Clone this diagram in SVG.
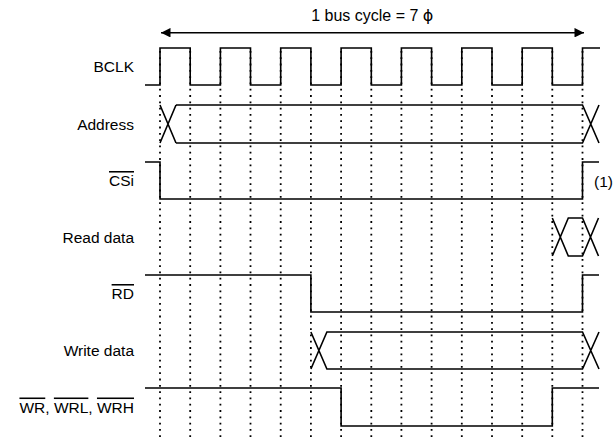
<svg xmlns="http://www.w3.org/2000/svg" width="613" height="438" viewBox="0 0 613 438">
<style>
text{font-family:"Liberation Sans",Arial,sans-serif;font-size:15.5px;fill:#000}
.lbl{text-anchor:end}
.sig{fill:none;stroke:#000;stroke-width:1.6;stroke-linejoin:miter}
.grid{stroke:#000;stroke-width:1.8;stroke-dasharray:1.8 4.5;fill:none}
.ov{text-decoration:overline}
</style>
<defs>
<marker id="ah" viewBox="0 0 10 10" refX="10" refY="5" markerWidth="10" markerHeight="9.5" markerUnits="userSpaceOnUse" orient="auto-start-reverse">
<path d="M0,0 L10,5 L0,10 z" fill="#000"/>
</marker>
</defs>
<rect width="613" height="438" fill="#fff"/>
<g id="grid">
<path class="grid" d="M160,51V438M190.2,51V438M220.4,51V438M250.5,51V438M280.7,51V438M310.9,51V438M341.1,51V438M371.3,51V438M401.4,51V438M431.6,51V438M461.8,51V438M492,51V438M522.2,51V438M552.3,51V438M582.5,51V438"/>
</g>
<g id="connectors">
<line x1="161" y1="32.7" x2="584" y2="32.7" stroke="#000" stroke-width="1.6" marker-start="url(#ah)" marker-end="url(#ah)"/>
<text x="372.3" y="20.7" text-anchor="middle" style="font-size:16px">1 bus cycle = 7 <tspan style="font-family:'DejaVu Sans',sans-serif">ϕ</tspan></text>
</g>
<g id="bclk">
<text class="lbl" x="134" y="72">BCLK</text>
<path class="sig" d="M145,85H160V48H190.2V85H220.4V48H250.5V85H280.7V48H310.9V85H341.1V48H371.3V85H401.4V48H431.6V85H461.8V48H492V85H522.2V48H552.3V85H582.5V48H600"/>
</g>
<g id="address">
<text class="lbl" x="134" y="129.5">Address</text>
<path class="sig" d="M160,105L176,143M160,143L176,105M176,105H582.5L599,143M176,143H582.5L599,105"/>
</g>
<g id="csi">
<text class="lbl" x="134" y="186"><tspan class="ov">CSi</tspan></text>
<path class="sig" d="M145,162H160V199H582.5V162H599"/>
<text x="594" y="186.5">(1)</text>
</g>
<g id="readdata">
<text class="lbl" x="134" y="242.5">Read data</text>
<path class="sig" d="M552.3,218L568.3,256H582.5L598.5,218M552.3,256L568.3,218H582.5L598.5,256"/>
</g>
<g id="rd">
<text class="lbl" x="134" y="299"><tspan class="ov">RD</tspan></text>
<path class="sig" d="M145,275H310.9V312H582.5V275H599"/>
</g>
<g id="writedata">
<text class="lbl" x="134" y="356">Write data</text>
<path class="sig" d="M310.9,332L326.9,369H582.5L599,332M310.9,369L326.9,332H582.5L599,369"/>
</g>
<g id="wr">
<text class="lbl" x="134" y="412.5"><tspan class="ov">WR</tspan>, <tspan class="ov">WRL</tspan>, <tspan class="ov">WRH</tspan></text>
<path class="sig" d="M145,388H341.1V426H552.3V388H599"/>
</g>
</svg>
